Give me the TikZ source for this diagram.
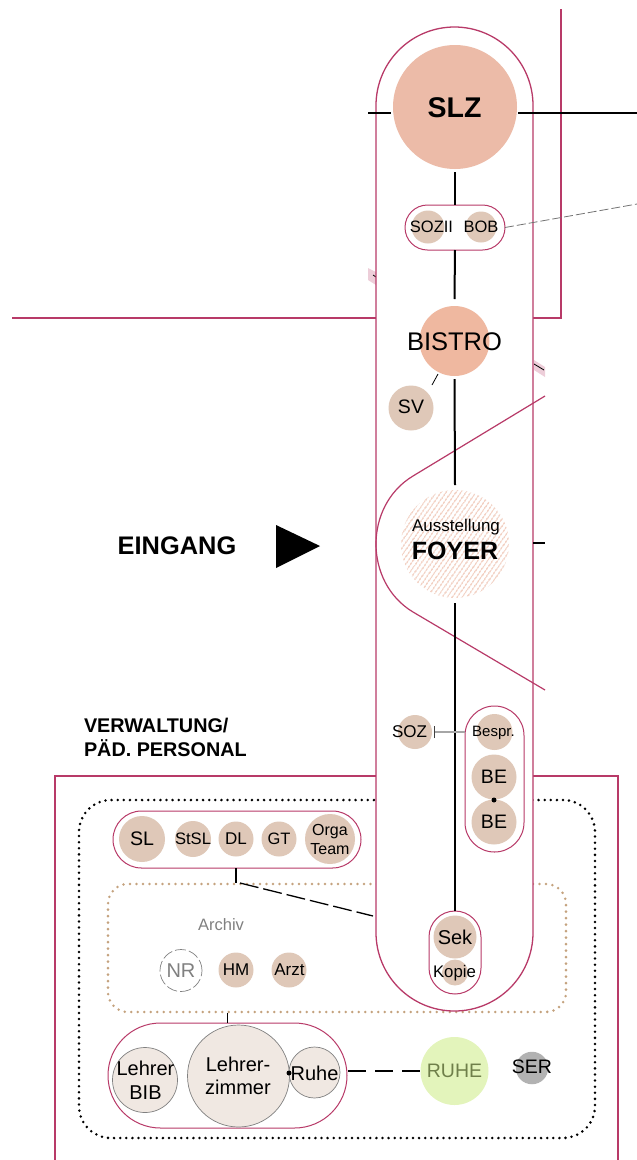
\documentclass[tikz,border=0pt]{standalone}
\usepackage{fontspec}
\usepackage{xcolor}
\setmainfont{Liberation Sans}
\usetikzlibrary{patterns.meta}
\definecolor{wand}{HTML}{B83A68}
\definecolor{raum}{HTML}{DFC8B8}
\definecolor{lachs}{HTML}{ECBBA8}
\definecolor{bistrof}{HTML}{EFB8A0}
\definecolor{hell}{HTML}{F0E8E2}
\definecolor{sand}{HTML}{C4A27E}
\definecolor{gruen}{HTML}{E3F4BB}
\definecolor{oliv}{HTML}{6F7F4A}
\newcommand{\sz}[2]{\fontsize{#1}{#2}\selectfont}
\tikzset{
  kreis/.style={circle,inner sep=0pt,outer sep=0pt},
  raumk/.style={kreis,fill=raum},
  hellk/.style={kreis,fill=hell,draw=black!50,line width=0.7pt},
  txt/.style={inner sep=0pt,outer sep=0pt,align=center,text=black},
  pill/.style={draw=wand,fill=white,line width=1pt,inner sep=0pt,outer sep=0pt},
  wandl/.style={draw=wand,line width=1.4pt},
  wire/.style={draw=black,line width=2pt},
  punkt/.style={circle,fill=black,inner sep=0pt,minimum size=5pt}
}
\begin{document}
\begin{tikzpicture}[x=1pt,y=-1pt]
\useasboundingbox (0,0) rectangle (637,1160);
% Waende
\draw[wandl] (561,9) -- (561,318) -- (533,318);
\draw[wandl] (12,318) -- (376,318);
\draw[wandl] (376,776) -- (55,776) -- (55,1160);
\draw[wandl] (533,776) -- (618,776) -- (618,1160);
\fill[wand!25] (368,268) -- (376,272) -- (376,285) -- (368,280) -- cycle;
\fill[wand!25] (534,360) -- (545,367) -- (545,377) -- (534,370) -- cycle;
\draw[black,line width=0.8pt] (534,364) -- (544,370);
\draw[black,line width=0.8pt] (373,275) -- (376,277);
% Bereiche
\node[draw=black,line width=2.8pt,line cap=round,dash pattern=on 0pt off 6.1pt,rounded corners=32pt,
  minimum width=516pt,minimum height=338pt,inner sep=0pt] (personal) at (337,969) {};
\node[draw=sand,line width=2.8pt,line cap=round,dash pattern=on 0pt off 6.5pt,rounded corners=20pt,
  minimum width=458pt,minimum height=128pt,inner sep=0pt] (archivrand) at (337,948) {};
\node[pill,line width=1.3pt,rounded corners=78.5pt,minimum width=157pt,minimum height=984pt] (flur) at (454.5,519) {};
\draw[wire] (368,113) -- (391,113);
\draw[wand,line width=1.2pt] (545,396) -- (413,476) .. controls (388,491) and (376,518) .. (376,544)
  .. controls (376,570) and (388,597) .. (413,612) -- (545,690);
% Mitte
\node[kreis,fill=lachs,minimum size=124pt] (slz) at (455,107) {};
\node[txt,font=\bfseries\sz{28.5}{32}] at (454.5,108) {SLZ};
\node[pill,rounded corners=22.5pt,minimum width=100pt,minimum height=45pt] (sozpill) at (455,227.5) {};
\node[raumk,minimum size=33pt] (sozii) at (428,227) {};
\node[raumk,minimum size=31pt] (bob) at (481,227) {};
\node[txt,font=\sz{16.5}{19}] at (431.5,227) {SOZII};
\node[txt,font=\sz{16.5}{19}] at (481,227) {BOB};
\node[kreis,fill=bistrof,minimum size=70pt] (bistro) at (454.5,341) {};
\node[txt,font=\sz{25.5}{29}] at (454.5,342) {BISTRO};
\node[raumk,minimum size=45pt] (sv) at (411,408) {};
\node[txt,font=\sz{19.5}{22}] at (411,407) {SV};
\node[kreis,fill=white,pattern={Lines[angle=55,distance=4pt,line width=1.7pt]},pattern color=lachs!65,
  minimum size=108pt] (foyer) at (455,544) {};
\node[txt,font=\sz{17}{20}] (ausst) at (456,527) {Ausstellung};
\node[txt,font=\bfseries\sz{25}{29}] (foyertxt) at (455,551) {FOYER};
\node[pill,rounded corners=29.5pt,minimum width=59pt,minimum height=146pt] (bepill) at (494.5,779) {};
\node[raumk,minimum size=36pt] (bespr) at (494.5,732) {};
\node[txt,font=\sz{15}{18}] at (493.5,733) {Bespr.};
\node[raumk,minimum size=45pt] (beo) at (494,777) {};
\node[txt,font=\sz{19.5}{22}] at (494,777) {BE};
\node[raumk,minimum size=45pt] (beu) at (494,822) {};
\node[txt,font=\sz{19.5}{22}] at (494,822) {BE};
\node[punkt] (bedot) at (494,800) {};
\node[raumk,minimum size=34pt] (soz) at (415,732) {};
\node[txt,font=\sz{17}{20}] at (409.5,732) {SOZ};
\node[pill,rounded corners=26pt,minimum width=52pt,minimum height=83pt] (sekpill) at (455,952.5) {};
\node[raumk,minimum size=43pt] (sek) at (455,937) {};
\node[txt,font=\sz{20}{23}] at (455,937) {Sek};
\node[raumk,minimum size=26pt] (kopie) at (455,972.5) {};
\node[txt,font=\sz{16.8}{19}] at (454.5,973) {Kopie};
% Verbindungen Mitte
\draw[wire] ([yshift=-3pt]slz.south) -- (sozpill.north);
\draw[wire] (sozpill.south) -- ([yshift=7pt]bistro.north);
\draw[wire] ([yshift=-3pt]bistro.south) -- ([yshift=5pt]foyer.north);
\draw[wire] ([yshift=-5pt]foyer.south) -- (sekpill.north);
\coordinate (slzr) at (518,113);
\coordinate (ostende) at (637,113);
\draw[wire] (slzr) -- (ostende);
\coordinate (foyerost) at (533,543);
\coordinate (foyerost2) at (545,543);
\draw[black,line width=1.3pt] (foyerost) -- (foyerost2);
\coordinate (bobost) at (637,204);
\draw[black!55,line width=0.8pt,dash pattern=on 9pt off 3pt] (sozpill.east) -- (bobost);
\coordinate (svo) at (438,374);
\coordinate (svu) at (432,385);
\draw[black,line width=0.8pt] (svo) -- (svu);
\coordinate (sozr) at (434,732);
\draw[black!35,line width=1.3pt] (sozr) -- (bepill.west |- sozr);
\draw[black!75,line width=1pt] ([yshift=-6pt]sozr) -- ([yshift=6pt]sozr);
% Verwaltung
\node[pill,rounded corners=28.5pt,minimum width=248pt,minimum height=57pt] (slpill) at (237,839.5) {};
\node[raumk,minimum size=46pt] (sl) at (142,839) {};
\node[txt,font=\sz{19.6}{22}] at (142,839) {SL};
\node[raumk,minimum size=36pt] (stsl) at (193,839) {};
\node[txt,font=\sz{16.6}{19}] at (193,839) {StSL};
\node[raumk,minimum size=35pt] (dl) at (236,839) {};
\node[txt,font=\sz{17}{20}] at (236,839) {DL};
\node[raumk,minimum size=35pt] (gt) at (279,839) {};
\node[txt,font=\sz{16.5}{19}] at (279,839) {GT};
\node[raumk,minimum size=50pt] (orga) at (330,839) {};
\node[txt,font=\sz{16}{19}] at (330,839.5) {Orga\\Team};
\draw[black,line width=1.2pt] (slpill.south -| dl) -- (archivrand.north -| dl);
\coordinate (flurw) at (373,916);
\coordinate (dlab) at (240,883);
\draw[black,line width=1.3pt,dash pattern=on 19pt off 5pt] (dlab) -- (flurw);
\node[txt,text=black!50,font=\sz{16.5}{19}] (archiv) at (221,925) {Archiv};
\node[kreis,draw=black!50,line width=0.7pt,dash pattern=on 11pt off 3pt,minimum size=42pt] (nr) at (181,970.5) {};
\node[txt,text=black!50,font=\sz{20}{23}] at (181,970.5) {NR};
\node[raumk,minimum size=35pt] (hm) at (236,970) {};
\node[txt,font=\sz{17}{20}] at (236,970) {HM};
\node[raumk,minimum size=35pt] (arzt) at (289,970) {};
\node[txt,font=\sz{17}{20}] at (289.5,970) {Arzt};
% Lehrer
\node[pill,rounded corners=52.5pt,minimum width=239pt,minimum height=105pt] (lehrerpill) at (227.5,1075.5) {};
\draw[black,line width=1.2pt] (archivrand.south -| lehrerpill.north) -- (lehrerpill.north);
\node[hellk,minimum size=65pt] (bib) at (145,1080) {};
\node[txt,font=\sz{20}{24}] at (145.5,1080) {Lehrer\\BIB};
\node[hellk,minimum size=102pt] (lz) at (238.5,1076) {};
\node[txt,font=\sz{20}{23}] at (238,1076) {Lehrer-\\zimmer};
\node[hellk,minimum size=51pt] (ruhe) at (314.5,1072.5) {};
\node[txt,font=\sz{20}{23}] at (314.5,1073) {Ruhe};
\node[punkt] (lzdot) at (289,1073) {};
\node[kreis,fill=gruen,minimum size=68pt] (ruhegr) at (454.5,1071) {};
\node[txt,text=oliv,font=\sz{19.5}{22}] at (454.5,1071) {RUHE};
\node[kreis,fill=black!30,minimum size=32.5pt] (ser) at (532,1068) {};
\node[txt,font=\sz{19.5}{22}] at (532,1067) {SER};
\draw[black,line width=1.3pt,dash pattern=on 18pt off 9pt] ([xshift=1pt]lehrerpill.east |- ruhegr) -- (ruhegr.west);
% Eingang
\node[txt,font=\bfseries\sz{25.4}{29}] (eingang) at (177,546) {EINGANG};
\fill[black] (276,525) -- (276,568) -- (320,546) -- cycle;
\node[txt,font=\bfseries\sz{19.8}{24},align=left,anchor=north west] (verw) at (84,718) {VERWALTUNG/\\PÄD. PERSONAL};
\end{tikzpicture}
\end{document}
